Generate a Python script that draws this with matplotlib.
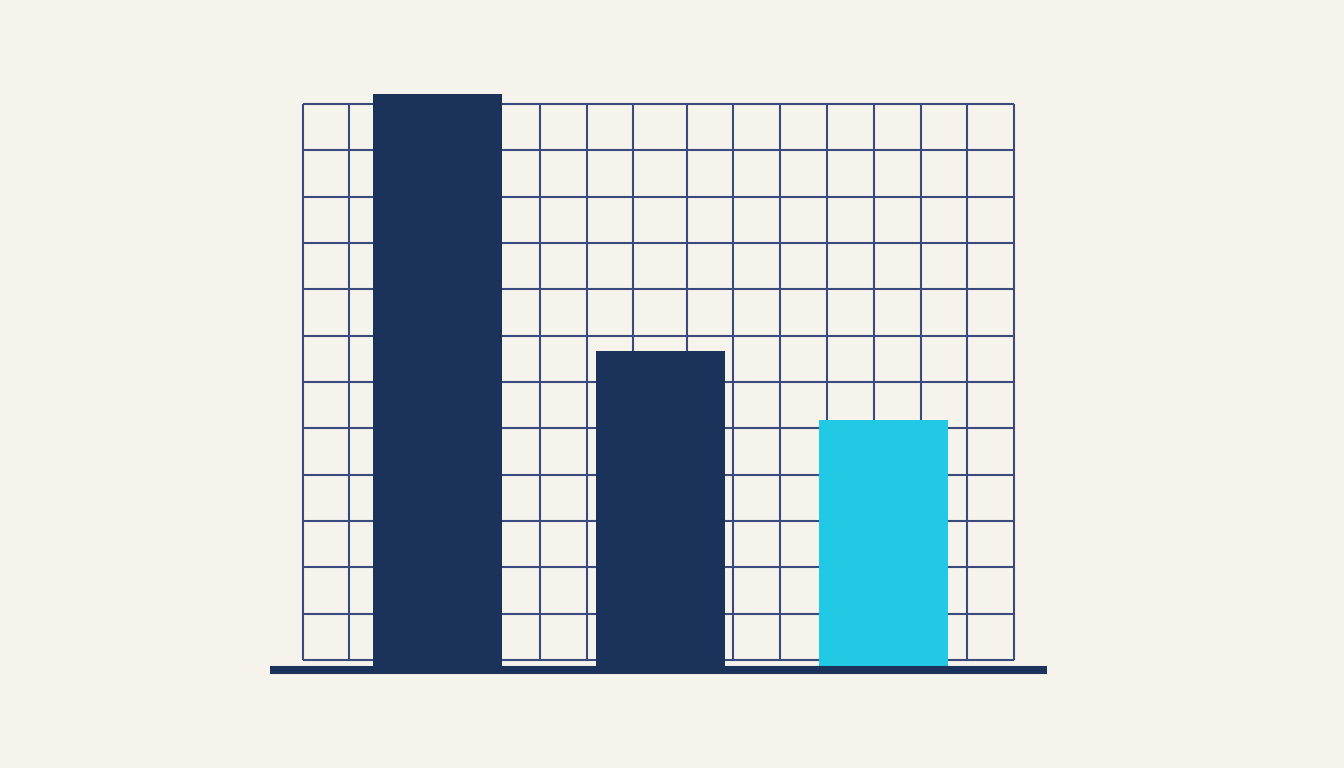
import numpy as np
import matplotlib
matplotlib.use('Agg')
import matplotlib.pyplot as plt

# chart data
categories = ['A', 'B', 'C']
values = [12.35, 6.8, 5.3]
bar_colors = ['#1b325b', '#1b325b', '#22c9e4']

bg = '#f5f3ec'
navy = '#1b325b'
grid_col = '#3b4a7c'

# pixel layout helpers (figure is 1344x768 at dpi 100)
px_unit = 46.33          # pixels per value unit
base_px = 666            # baseline (value 0), pixels from top
x0_px, dx_px = 437.5, 223.0   # center of first bar, spacing between bars

def xpx(p):
    return (p - x0_px) / dx_px

def ypx(p):
    return (base_px - p) / px_unit

fig = plt.figure(figsize=(13.44, 7.68), dpi=100, facecolor=bg)
ax = fig.add_axes([0, 0, 1, 1])
ax.set_facecolor(bg)
ax.set_xlim(xpx(0), xpx(1344))
ax.set_ylim(ypx(768), ypx(0))
ax.axis('off')

# grid box
vlines_px = [303, 349, 396, 444, 492, 540, 587, 633, 687, 733, 780, 827, 874, 921, 967, 1014]
hlines_px = 104 + np.arange(13) * (660 - 104) / 12
ax.hlines([ypx(p) for p in hlines_px], xpx(303), xpx(1014), colors=grid_col, lw=1.5, zorder=1)
ax.vlines([xpx(p) for p in vlines_px], ypx(660), ypx(104), colors=grid_col, lw=1.5, zorder=1)

# bars
pos = np.arange(len(categories))
ax.bar(pos, values, width=0.578, color=bar_colors, zorder=2)

# baseline
ax.hlines(ypx(670), xpx(270), xpx(1047), colors=navy, lw=5.8, zorder=3, capstyle='butt')

fig.savefig('out.png', dpi=100, facecolor=bg)
